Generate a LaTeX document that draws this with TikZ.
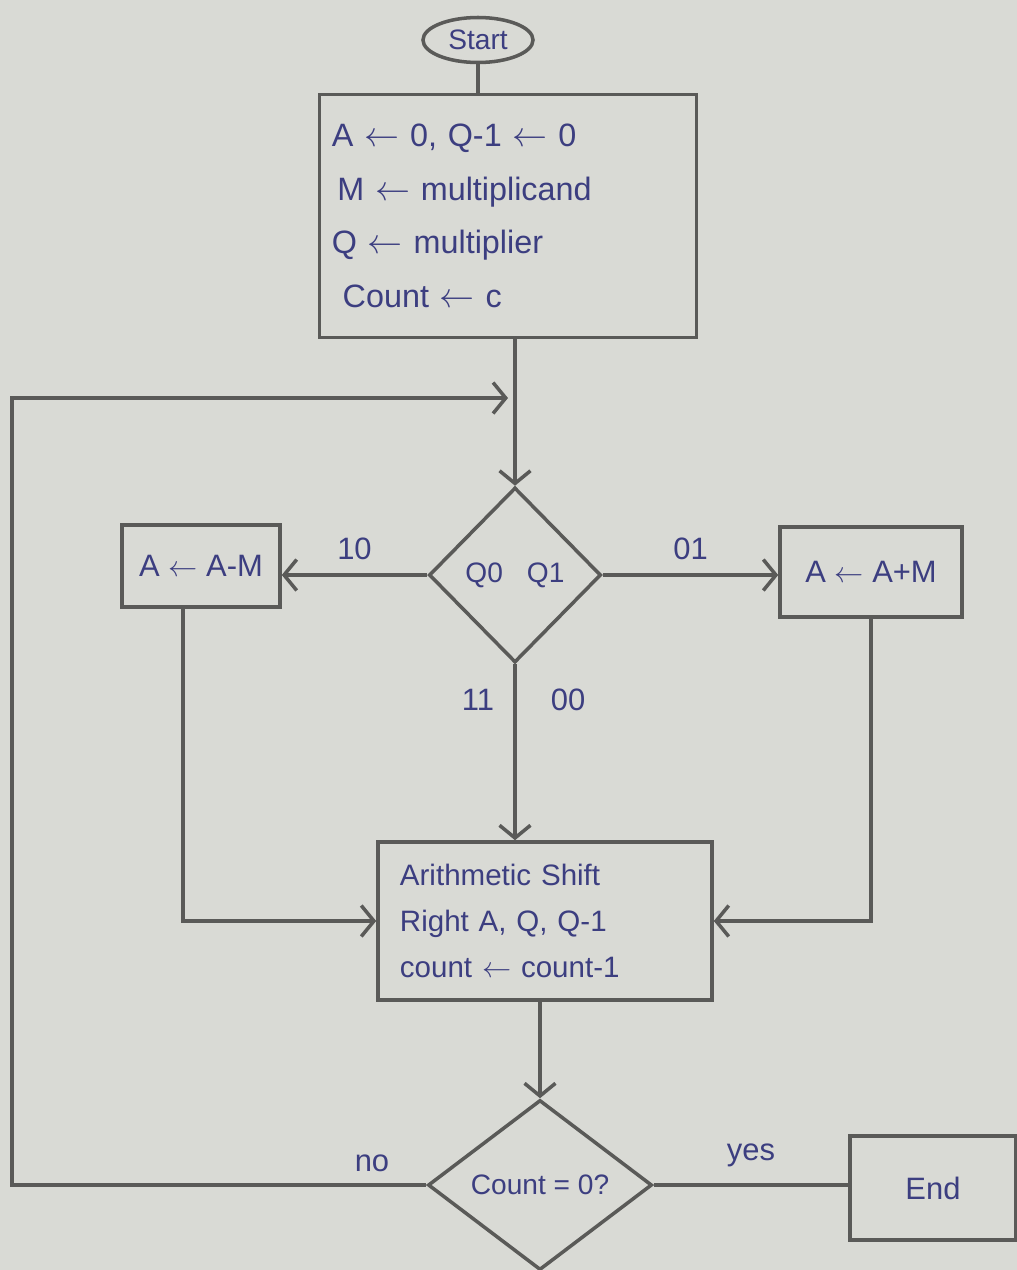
\documentclass[tikz,border=0pt]{standalone}
\usepackage{fontspec}
\setmainfont{Liberation Sans}
\usetikzlibrary{arrows.meta,shapes.geometric}
\definecolor{paper}{HTML}{D9DAD5}
\definecolor{pencil}{HTML}{5A5A58}
\definecolor{inkblue}{HTML}{3C3E80}
\begin{document}
\begin{tikzpicture}[x=0.025cm,y=-0.025cm,line width=2.5pt,
  box/.style={draw=pencil,rectangle,inner sep=0pt,text=inkblue,align=left,font=\fontsize{22}{34}\selectfont},
  dec/.style={draw=pencil,diamond,inner sep=0pt,text=inkblue,font=\fontsize{20}{24}\selectfont},
  lbl/.style={text=inkblue,font=\fontsize{22}{26}\selectfont},
  arr/.style={draw=pencil,-{Straight Barb[length=9pt,width=22pt,line width=2.5pt]}},
  con/.style={draw=pencil}]
\fill[paper] (0,0) rectangle (1017,1270);
\useasboundingbox (0,0) rectangle (1017,1270);

\node[draw=pencil,ellipse,minimum width=2.75cm,minimum height=1.125cm,inner sep=0pt,text=inkblue,font=\fontsize{20}{24}\selectfont] (start) at (478,40) {Start};
\node[box,minimum width=9.425cm,minimum height=6.075cm,text width=8.8cm,font=\fontsize{23}{38}\selectfont] (init) at (508,216)
  {A $\leftarrow$ 0, Q-1 $\leftarrow$ 0\\ \,M $\leftarrow$ multiplicand\\ Q $\leftarrow$ multiplier\\ \ Count $\leftarrow$ c};
\node[dec,minimum width=4.3cm,minimum height=4.375cm] (d1) at (515,575) {Q0\hspace{0.6cm}Q1};
\node[box,minimum width=3.95cm,minimum height=2.05cm] (left) at (201,566) {A $\leftarrow$ A-M};
\node[box,minimum width=4.55cm,minimum height=2.25cm] (right) at (871,572) {A $\leftarrow$ A+M};
\node[box,minimum width=8.35cm,minimum height=3.95cm,text width=7.25cm,font=\fontsize{21}{33}\selectfont] (shift) at (545,921)
  {Arithmetic Shift\\ Right A, Q, Q-1\\ count $\leftarrow$ count-1};
\node[dec,minimum width=5.6cm,minimum height=4.25cm] (d2) at (540,1185) {Count = 0?};
\node[box,minimum width=4.15cm,minimum height=2.6cm] (end) at (933,1188) {End};

\coordinate (loopB) at (12,1185);
\coordinate (loopT) at (12,398);
\coordinate (join) at (508,398);

\draw[con] (start.south) -- (init.north -| start.south);
\draw[arr] (init.south -| d1.north) -- (d1.north);
\draw[arr] (d2.west) -- (loopB) -- (loopT) -- (join);
\draw[arr] (d1.west) -- node[lbl,above=6pt] {10} (d1.west -| left.east);
\draw[arr] (d1.east) -- node[lbl,above=6pt] {01} (d1.east -| right.west);
\draw[arr] (d1.south) -- (d1.south |- shift.north);
\node[lbl] (l11) at (478,700) {11};
\node[lbl] (l00) at (568,700) {00};
\draw[arr] ([xshift=-0.45cm]left.south) |- (shift.west);
\draw[arr] (right.south) |- (shift.east);
\draw[arr] (d2.north |- shift.south) -- (d2.north);
\draw[con] (d2.east) -- node[lbl,above=8pt] {yes} (d2.east -| end.west);
\node[lbl] (lno) at (372,1163) {no};
\end{tikzpicture}
\end{document}
